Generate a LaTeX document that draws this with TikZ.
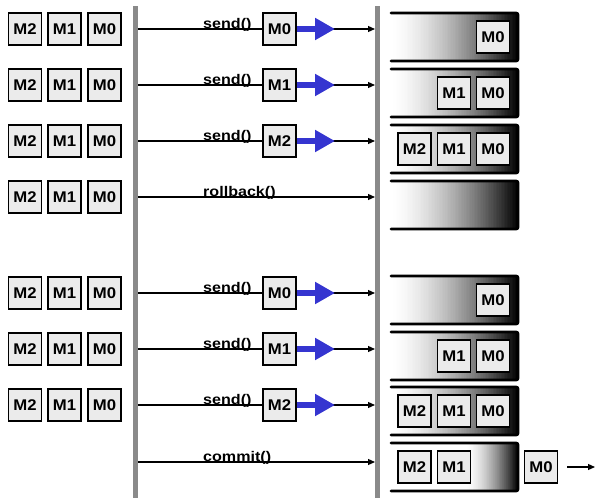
\documentclass[tikz,border=0pt]{standalone}
\usepackage{fontspec}
\usetikzlibrary{arrows.meta}
\newfontfamily\diagfont[FakeStretch=1.08]{Liberation Sans}
\newfontfamily\callfont[FakeStretch=1.15]{Liberation Sans}
\definecolor{boxgray}{HTML}{EBEBEB}
\definecolor{bargray}{HTML}{8A8A8A}
\definecolor{sendblue}{HTML}{3535D0}
\tikzset{
  msg/.style={draw=black, line width=1.6pt, fill=boxgray, minimum width=33pt,
    minimum height=32pt, inner sep=0pt,
    font=\diagfont\fontsize{15.5}{15.5}\selectfont\bfseries},
  call/.style={anchor=base west, inner sep=0pt,
    font=\callfont\fontsize{14}{14}\selectfont\bfseries},
  wire/.style={line width=1.2pt, -{Triangle[length=7pt,width=6pt]}},
  push/.style={draw=sendblue, line width=6pt, -{Triangle[length=20pt,width=21pt]}},
  rail/.style={fill=bargray},
  tube/.style={line width=2.8pt, line cap=round, rounded corners=2pt},
}
% queue tube: #1 = top edge, #2 = x where the darkening starts;
% the fill is built from thin strips going from white to black
\newcommand\queuetube[2]{%
  \pgfmathsetmacro\qw{(518-#2)/80}
  \foreach \i in {0,...,79} {
    \pgfmathsetmacro\p{100*((\i+0.5)/80)^1.6}
    \fill[black!\p] (#2+\i*\qw,#1) rectangle (#2+\i*\qw+\qw+0.3,#1+48);
  }
  \draw[tube] (391,#1) -- (518,#1) -- (518,#1+48) -- (391,#1+48);
}
\begin{document}
\begin{tikzpicture}[x=1pt,y=-1pt]
\useasboundingbox (0,0) rectangle (595,498);

% producer and broker rails
\fill[rail] (133,6) rectangle (138,498);
\fill[rail] (375,6) rectangle (380,498);

% call wires between the rails
\foreach \r/\y in {1/29,2/85,3/141,4/197,5/293,6/349,7/405,8/462} {
  \coordinate (s\r) at (138,\y);
  \coordinate (e\r) at (375,\y);
  \draw[wire] (s\r) -- (e\r);
}

% local message stacks
\foreach \r/\y in {1/29,2/85,3/141,4/197,5/293,6/349,7/405} {
  \node[msg] (L\r-2) at (25,\y) {M2};
  \node[msg] (L\r-1) at (64.5,\y) {M1};
  \node[msg] (L\r-0) at (104.5,\y) {M0};
}

% send() calls with the message in flight
\foreach \r/\y/\m in {1/29/M0,2/85/M1,3/141/M2,5/293/M0,6/349/M1,7/405/M2} {
  \node[call] (c\r) at (203,\y-1) {send()};
  \node[msg] (f\r) at (279.5,\y) {\m};
  \coordinate (t\r) at (335,\y);
  \draw[push] (f\r.east) -- (t\r);
}
\node[call] (c4) at (203,196) {rollback()};
\node[call] (c8) at (203,461) {commit()};

% broker queues
\queuetube{13}{391}
\node[msg] (q1-0) at (493,37) {M0};

\queuetube{69}{391}
\node[msg] (q2-1) at (454,93) {M1};
\node[msg] (q2-0) at (493,93) {M0};

\queuetube{125}{391}
\node[msg] (q3-2) at (414.5,149) {M2};
\node[msg] (q3-1) at (454,149) {M1};
\node[msg] (q3-0) at (493,149) {M0};

\queuetube{181}{391}

\queuetube{276}{391}
\node[msg] (q5-0) at (493,300) {M0};

\queuetube{332}{391}
\node[msg] (q6-1) at (454,356) {M1};
\node[msg] (q6-0) at (493,356) {M0};

\queuetube{387}{391}
\node[msg] (q7-2) at (414.5,411) {M2};
\node[msg] (q7-1) at (454,411) {M1};
\node[msg] (q7-0) at (493,411) {M0};

\queuetube{443}{466}
\node[msg] (q8-2) at (414.5,467) {M2};
\node[msg] (q8-1) at (454,467) {M1};

% committed message leaving the queue
\node[msg] (out) at (541,467) {M0};
\coordinate (away) at (595,467);
\draw[wire, shorten <=9pt] (out.east) -- (away);

\end{tikzpicture}
\end{document}
